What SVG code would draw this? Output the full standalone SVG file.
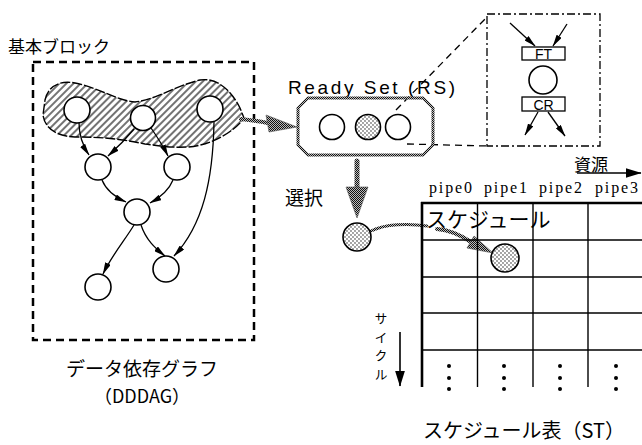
<svg xmlns="http://www.w3.org/2000/svg" width="642" height="445" viewBox="0 0 642 445">
<style>
.jp{font-family:"Noto Sans CJK JP","Liberation Sans",sans-serif;fill:#000}
.la{font-family:"Liberation Sans","Noto Sans CJK JP",sans-serif;fill:#000}
.se{font-family:"Liberation Serif",serif;fill:#000}
.nd{fill:#fff;stroke:#000;stroke-width:1.6}
.st{fill:url(#dots);stroke:#000;stroke-width:1.6}
.ed{fill:none;stroke:#000;stroke-width:1.3;marker-end:url(#ah)}
.gl{fill:none;stroke:url(#dith);stroke-linecap:round}
.gh{fill:url(#dith);stroke:#555;stroke-width:0.6}
.tb{stroke:#000;stroke-width:1.4}
</style>
<defs>
<pattern id="hatch" width="5" height="5" patternUnits="userSpaceOnUse" patternTransform="rotate(45)">
<rect width="5" height="5" fill="#fff"/>
<line x1="1" y1="0" x2="1" y2="5" stroke="#000" stroke-width="1.1"/>
</pattern>
<pattern id="dots" width="4" height="4" patternUnits="userSpaceOnUse">
<rect width="4" height="4" fill="#fff"/>
<circle cx="1" cy="1" r="0.65" fill="#000"/>
<circle cx="3" cy="3" r="0.65" fill="#000"/>
</pattern>
<pattern id="dith" width="2" height="2" patternUnits="userSpaceOnUse">
<rect width="2" height="2" fill="#bbb"/>
<rect width="1" height="1" fill="#111"/>
<rect x="1" y="1" width="1" height="1" fill="#111"/>
</pattern>
<marker id="ah" viewBox="0 0 12 6" refX="11.5" refY="3" markerWidth="12" markerHeight="6" markerUnits="userSpaceOnUse" orient="auto">
<path d="M0,0 L12,3 L0,6 Z" fill="#000"/>
</marker>
<marker id="ah2" viewBox="0 0 16 10" refX="15.5" refY="5" markerWidth="16" markerHeight="10" markerUnits="userSpaceOnUse" orient="auto">
<path d="M0,0 L16,5 L0,10 Z" fill="#000"/>
</marker>
</defs>
<rect width="642" height="445" fill="#fff"/>

<!-- Basic block label and DDDAG frame -->
<g id="basic-block">
<text class="jp" x="8" y="53" font-size="17">基本ブロック</text>
<rect x="33" y="62" width="221" height="278" fill="none" stroke="#000" stroke-width="2.5" stroke-dasharray="8,5"/>
<path d="M45,100 C48,86 60,80 75,83 C100,88 115,100 135,102 C155,100 175,86 200,80 C218,77 232,92 240,108 L244,118 C238,128 215,145 188,147 C165,148 155,145 145,144 C125,140 110,137 75,137 C55,136 45,128 43,115 Z" fill="url(#hatch)" stroke="#000" stroke-width="1.4" stroke-dasharray="10,2"/>
</g>

<g id="connectors">
<path class="ed" d="M79,123 C79,135 83,146 89,155"/>
<path class="ed" d="M134,129 C125,140 117,148 108,156"/>
<path class="ed" d="M151,128 C158,138 163,146 168,156"/>
<path class="ed" d="M102,180 C106,190 115,197 126,202"/>
<path class="ed" d="M173,180 C169,190 161,197 150,203"/>
<path class="ed" d="M134,225 C125,240 112,255 103,274"/>
<path class="ed" d="M141,225 C146,240 155,248 165,256"/>
<path class="ed" d="M214,122 C213,180 203,225 174,256"/>
<!-- inset arrows -->
<line class="ed" x1="510" y1="23" x2="535" y2="46"/>
<line class="ed" x1="567" y1="24" x2="553" y2="46"/>
<line class="ed" x1="538" y1="112" x2="525" y2="135"/>
<line class="ed" x1="548" y1="112" x2="565" y2="136"/>
<!-- gray arrow band -> RS -->
<path class="gl" stroke-width="4" d="M241,119 C250,120 258,121 268,123"/>
<polygon class="gh" points="266,115 297,127 269,132"/>
<!-- selection arrow -->
<path class="gl" stroke-width="5" d="M357,161 L357,189"/>
<polygon class="gh" points="346,187 368,187 357,218"/>
<!-- schedule arrow -->
<path class="gl" stroke-width="3" d="M371,231 C385,224 408,223 427,226"/>
<path class="gl" stroke-width="4" d="M437,229 C450,230 462,236 471,242"/>
<polygon class="gh" points="474,236 493,253 467,248"/>
<!-- dashed zoom lines -->
<line x1="396" y1="110" x2="486" y2="18" stroke="#000" stroke-width="1.3" stroke-dasharray="7,5"/>
<line x1="407" y1="144" x2="487" y2="146" stroke="#000" stroke-width="1.3" stroke-dasharray="7,5"/>
<!-- resource / cycle arrows -->
<line x1="577" y1="173" x2="641" y2="173" stroke="#000" stroke-width="1.6" marker-end="url(#ah2)"/>
<line x1="400" y1="332" x2="400" y2="386" stroke="#000" stroke-width="1.6" marker-end="url(#ah2)"/>
</g>

<g id="n-a"><circle class="nd" cx="77" cy="110" r="13"/></g>
<g id="n-b"><circle class="nd" cx="143" cy="118" r="12.5"/></g>
<g id="n-c"><circle class="nd" cx="210" cy="109" r="13"/></g>
<g id="n-d"><circle class="nd" cx="98" cy="167" r="13"/></g>
<g id="n-e"><circle class="nd" cx="177" cy="167" r="13"/></g>
<g id="n-f"><circle class="nd" cx="137" cy="212" r="13"/></g>
<g id="n-g"><circle class="nd" cx="98" cy="287" r="13"/></g>
<g id="n-h"><circle class="nd" cx="166" cy="269" r="13"/></g>

<g id="dddag-label">
<text class="jp" x="142" y="376" font-size="19" text-anchor="middle">データ依存グラフ</text>
<text class="jp" x="142" y="403" font-size="18" text-anchor="middle">（DDDAG）</text>
</g>

<g id="ready-set">
<text class="la" x="288" y="94" font-size="19" textLength="167" lengthAdjust="spacing">Ready Set (RS)</text>
<path d="M308,98 L423,98 L433,108 L433,145 L423,155 L308,155 L298,145 L298,108 Z" fill="none" stroke="url(#dith)" stroke-width="3"/>
<circle class="nd" cx="332" cy="127" r="12.5"/>
<circle class="st" cx="368" cy="127" r="12.5"/>
<circle class="nd" cx="398" cy="127" r="12.5"/>
</g>

<g id="inset">
<rect x="487" y="14" width="113" height="132" fill="none" stroke="#000" stroke-width="1.3" stroke-dasharray="8,3,2,3"/>
<rect x="522" y="47" width="43" height="13" fill="#fff" stroke="#000" stroke-width="1.3"/>
<text class="la" x="543.5" y="58.5" font-size="14" text-anchor="middle">FT</text>
<circle class="nd" cx="543" cy="80" r="14"/>
<rect x="522" y="97" width="43" height="14" fill="#fff" stroke="#000" stroke-width="1.3"/>
<text class="la" x="543.5" y="109.5" font-size="14" text-anchor="middle">CR</text>
</g>

<g id="select">
<text class="jp" x="285" y="205" font-size="19">選択</text>
<circle class="st" cx="357" cy="237" r="14"/>
</g>

<g id="schedule-table">
<text class="jp" x="574" y="171" font-size="17">資源</text>
<text class="se" x="429" y="193" font-size="16" textLength="43" lengthAdjust="spacing">pipe0</text>
<text class="se" x="484" y="193" font-size="16" textLength="43" lengthAdjust="spacing">pipe1</text>
<text class="se" x="539" y="193" font-size="16" textLength="43" lengthAdjust="spacing">pipe2</text>
<text class="se" x="595" y="193" font-size="16" textLength="43" lengthAdjust="spacing">pipe3</text>
<line x1="421" y1="203" x2="642" y2="203" stroke="#000" stroke-width="2.4"/>
<line x1="422" y1="202" x2="422" y2="387" stroke="#000" stroke-width="2.6"/>
<line class="tb" x1="477.5" y1="203" x2="477.5" y2="387"/>
<line class="tb" x1="533" y1="203" x2="533" y2="387"/>
<line class="tb" x1="588" y1="203" x2="588" y2="387"/>
<line class="tb" x1="422" y1="240" x2="642" y2="240"/>
<line class="tb" x1="422" y1="277" x2="642" y2="277"/>
<line class="tb" x1="422" y1="313" x2="642" y2="313"/>
<line class="tb" x1="422" y1="350" x2="642" y2="350"/>
<text class="jp" x="426" y="227" font-size="21">スケジュール</text>
<circle class="st" cx="505" cy="258" r="14"/>
<g fill="#000">
<circle cx="449" cy="366" r="2"/><circle cx="449" cy="378" r="2"/><circle cx="449" cy="389" r="2"/>
<circle cx="504" cy="366" r="2"/><circle cx="504" cy="378" r="2"/><circle cx="504" cy="389" r="2"/>
<circle cx="560" cy="366" r="2"/><circle cx="560" cy="378" r="2"/><circle cx="560" cy="389" r="2"/>
<circle cx="616" cy="366" r="2"/><circle cx="616" cy="378" r="2"/><circle cx="616" cy="389" r="2"/>
</g>
<text class="jp" x="381" y="312" font-size="13" writing-mode="vertical-rl" letter-spacing="5.5">サイクル</text>
<text class="jp" x="524" y="438" font-size="20" text-anchor="middle">スケジュール表（ST）</text>
</g>
</svg>
